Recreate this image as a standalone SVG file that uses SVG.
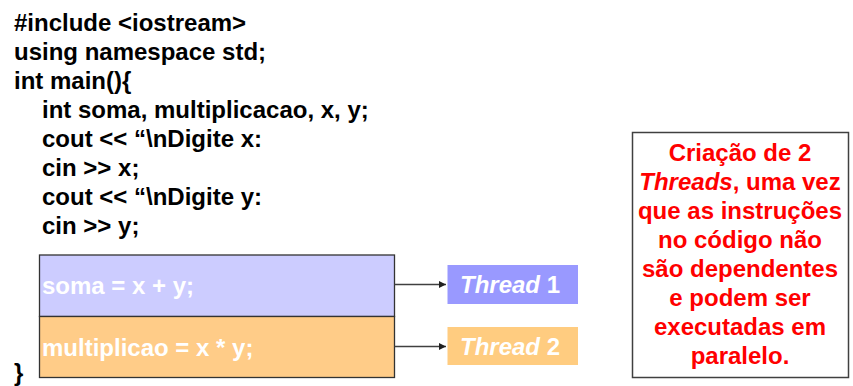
<svg xmlns="http://www.w3.org/2000/svg" width="853" height="386" viewBox="0 0 853 386">
<defs>
<style>
.code{font-family:"Liberation Sans",Arial,sans-serif;font-weight:bold;font-size:24px;fill:#000}
.box{stroke:#333;stroke-width:1.3}
.wt{font-family:"Liberation Sans",Arial,sans-serif;font-weight:bold;font-size:24px;fill:#fff}
.red{font-family:"Liberation Sans",Arial,sans-serif;font-weight:bold;font-size:24px;fill:#ff0000;text-anchor:middle}
.conn{stroke:#404040;stroke-width:1.3;fill:none}
</style>
<marker id="arr" markerWidth="8" markerHeight="8" refX="7" refY="4" orient="auto" markerUnits="userSpaceOnUse">
<path d="M0,0.5 L7,4 L0,7.5 Z" fill="#202020"/>
</marker>
</defs>
<rect width="853" height="386" fill="#fff"/>
<g id="code">
<text class="code" x="14" y="31">#include &lt;iostream&gt;</text>
<text class="code" x="14" y="60">using namespace std;</text>
<text class="code" x="14" y="89">int main(){</text>
<text class="code" x="42" y="118">int soma, multiplicacao, x, y;</text>
<text class="code" x="42" y="147">cout &lt;&lt; “\nDigite x:</text>
<text class="code" x="42" y="176">cin &gt;&gt; x;</text>
<text class="code" x="42" y="205">cout &lt;&lt; “\nDigite y:</text>
<text class="code" x="42" y="234">cin &gt;&gt; y;</text>
<text class="code" x="14" y="381">}</text>
</g>
<g id="soma">
<rect class="box" x="39.5" y="255" width="355" height="61.5" fill="#ccccff"/>
<text class="wt" x="42" y="294">soma = x + y;</text>
</g>
<g id="mult">
<rect class="box" x="39.5" y="316.5" width="355" height="61" fill="#ffcc88"/>
<text class="wt" x="42" y="356">multiplicao = x * y;</text>
</g>
<g id="thread1">
<rect x="447.5" y="265" width="130.5" height="39" fill="#9999ff"/>
<text class="wt" x="460" y="293"><tspan font-style="italic">Thread</tspan> 1</text>
</g>
<g id="thread2">
<rect x="447.5" y="327" width="130.5" height="38" fill="#ffcc80"/>
<text class="wt" x="460" y="355"><tspan font-style="italic">Thread</tspan> 2</text>
</g>
<g id="note">
<rect x="632.5" y="132.5" width="216" height="245" fill="#fff" stroke="#404040" stroke-width="1.5"/>
<text class="red" x="740" y="161">Criação de 2</text>
<text class="red" x="740" y="190"><tspan font-style="italic">Threads</tspan>, uma vez</text>
<text class="red" x="740" y="219">que as instruções</text>
<text class="red" x="740" y="248">no código não</text>
<text class="red" x="740" y="277">são dependentes</text>
<text class="red" x="740" y="306">e podem ser</text>
<text class="red" x="740" y="335">executadas em</text>
<text class="red" x="740" y="364">paralelo.</text>
</g>
<g id="connectors">
<line class="conn" x1="394.5" y1="284.5" x2="446" y2="284.5" marker-end="url(#arr)"/>
<line class="conn" x1="394.5" y1="346.5" x2="446" y2="346.5" marker-end="url(#arr)"/>
</g>
</svg>
